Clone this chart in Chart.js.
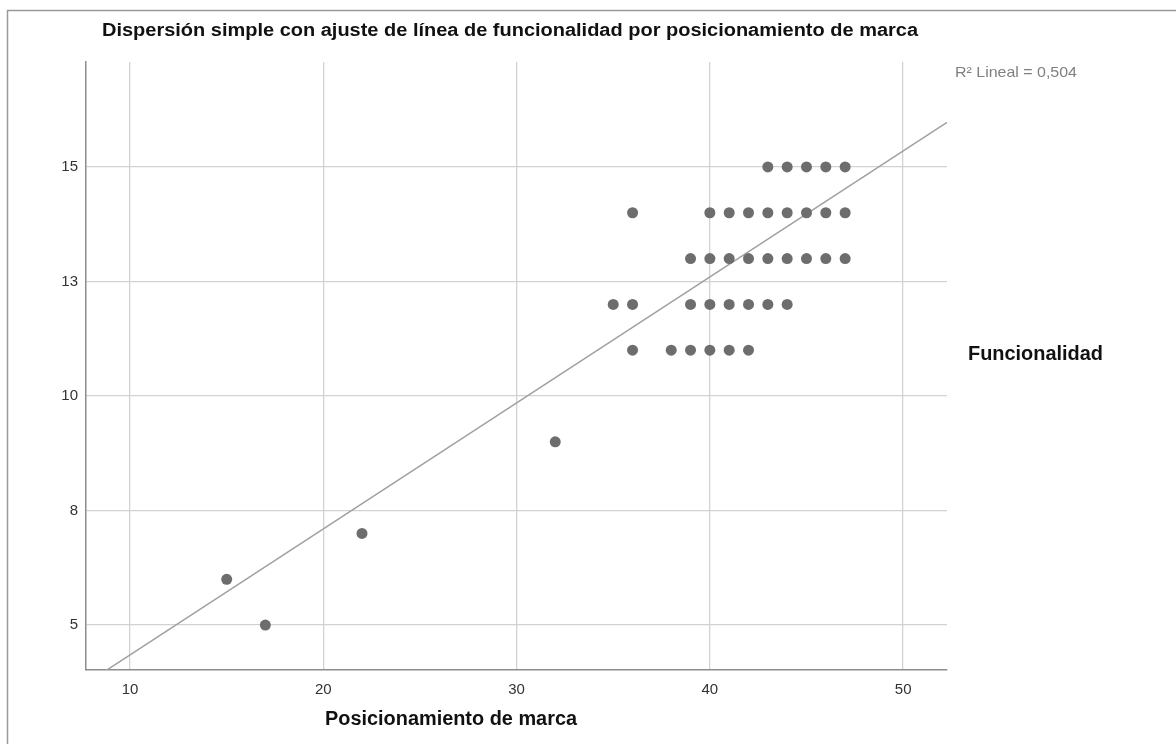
<!DOCTYPE html>
<html>
<head>
<meta charset="utf-8">
<script src="https://cdn.jsdelivr.net/npm/chart.js@4.4.1/dist/chart.umd.min.js"></script>
<style>
html,body{margin:0;padding:0;background:#fff;}
#wrap{position:relative;width:1176px;height:744px;}
</style>
</head>
<body>
<div id="wrap"><canvas id="c" width="1176" height="744"></canvas></div>
<script>
// Data
const posicionamiento = [15, 17, 22, 32,
  36, 38, 39, 40, 41, 42,
  35, 36, 39, 40, 41, 42, 43, 44,
  39, 40, 41, 42, 43, 44, 45, 46, 47,
  36, 40, 41, 42, 43, 44, 45, 46, 47,
  43, 44, 45, 46, 47];
const funcionalidad = [6, 5, 7, 9,
  11, 11, 11, 11, 11, 11,
  12, 12, 12, 12, 12, 12, 12, 12,
  13, 13, 13, 13, 13, 13, 13, 13, 13,
  14, 14, 14, 14, 14, 14, 14, 14, 14,
  15, 15, 15, 15, 15];
const xTicks = [10, 20, 30, 40, 50];
const yTicks = [5, 7.5, 10, 12.5, 15];
const yTickLabels = ['5', '8', '10', '13', '15'];
const fitIntercept = 1.6;
const fitSlope = 0.275;
const xRange = [7.72, 52.27];
const yRange = [4.02, 17.29];
const titleText = 'Dispersión simple con ajuste de línea de funcionalidad por posicionamiento de marca';
const xTitle = 'Posicionamiento de marca';
const yTitle = 'Funcionalidad';
const r2Text = 'R² Lineal = 0,504';

const points = posicionamiento.map((x, i) => ({x: x, y: funcionalidad[i]}));
const fitPoints = xRange.map(x => ({x: x, y: fitIntercept + fitSlope * x}));

const FONT = '"Liberation Sans", Arial, sans-serif';

function fitText(ctx, text, x, y, targetW) {
  const w = ctx.measureText(text).width;
  ctx.save();
  ctx.translate(x, y);
  ctx.scale(targetW / w, 1);
  ctx.fillText(text, 0, 0);
  ctx.restore();
}

const decor = {
  id: 'decor',
  beforeDraw(chart) {
    const ctx = chart.ctx;
    ctx.save();
    ctx.fillStyle = '#fff';
    ctx.fillRect(0, 0, chart.width, chart.height);
    ctx.strokeStyle = '#9a9a9a';
    ctx.lineWidth = 1.5;
    ctx.beginPath();
    ctx.moveTo(7.5, 744);
    ctx.lineTo(7.5, 10.5);
    ctx.lineTo(1176, 10.5);
    ctx.stroke();
    ctx.restore();
  },
  afterDraw(chart) {
    const ctx = chart.ctx;
    ctx.save();
    ctx.textBaseline = 'middle';
    ctx.textAlign = 'left';
    ctx.fillStyle = '#111';
    ctx.font = 'bold 18px ' + FONT;
    fitText(ctx, titleText, 102, 31, 816);
    ctx.font = 'bold 20px ' + FONT;
    fitText(ctx, xTitle, 325, 719, 252);
    fitText(ctx, yTitle, 968, 354, 135);
    ctx.font = '15px ' + FONT;
    ctx.fillStyle = '#808080';
    fitText(ctx, r2Text, 955, 73, 122);
    ctx.restore();
  }
};

new Chart(document.getElementById('c'), {
  type: 'scatter',
  data: {
    datasets: [
      {
        label: 'Fit',
        type: 'line',
        data: fitPoints,
        borderColor: '#a0a0a0',
        borderWidth: 1.5,
        pointRadius: 0,
        fill: false,
        order: 2
      },
      {
        label: 'Datos',
        data: points,
        pointRadius: 5.5,
        pointBackgroundColor: '#6d6d6d',
        pointBorderColor: '#6d6d6d',
        pointBorderWidth: 0,
        order: 1
      }
    ]
  },
  plugins: [decor],
  options: {
    responsive: false,
    animation: false,
    devicePixelRatio: 1,
    layout: {padding: {top: 62, right: 229, left: 0, bottom: 0}},
    plugins: {legend: {display: false}, tooltip: {enabled: false}},
    scales: {
      x: {
        type: 'linear',
        min: xRange[0],
        max: xRange[1],
        afterBuildTicks(s) { s.ticks = xTicks.map(v => ({value: v})); },
        afterFit(s) { s.height = 744 - 670; },
        ticks: {color: '#333', font: {size: 15, family: FONT}, padding: 11,
          callback: v => String(v)},
        grid: {color: '#d2d2d2', lineWidth: 1.3, drawTicks: false},
        border: {color: '#8c8c8c', width: 1.5}
      },
      y: {
        type: 'linear',
        min: yRange[0],
        max: yRange[1],
        afterBuildTicks(s) { s.ticks = yTicks.map(v => ({value: v})); },
        afterFit(s) { s.width = 86; },
        ticks: {color: '#333', font: {size: 15, family: FONT}, padding: 8,
          callback: v => yTickLabels[yTicks.indexOf(v)]},
        grid: {color: '#d2d2d2', lineWidth: 1.3, drawTicks: false},
        border: {color: '#8c8c8c', width: 1.5}
      }
    }
  }
});
</script>
</body>
</html>
